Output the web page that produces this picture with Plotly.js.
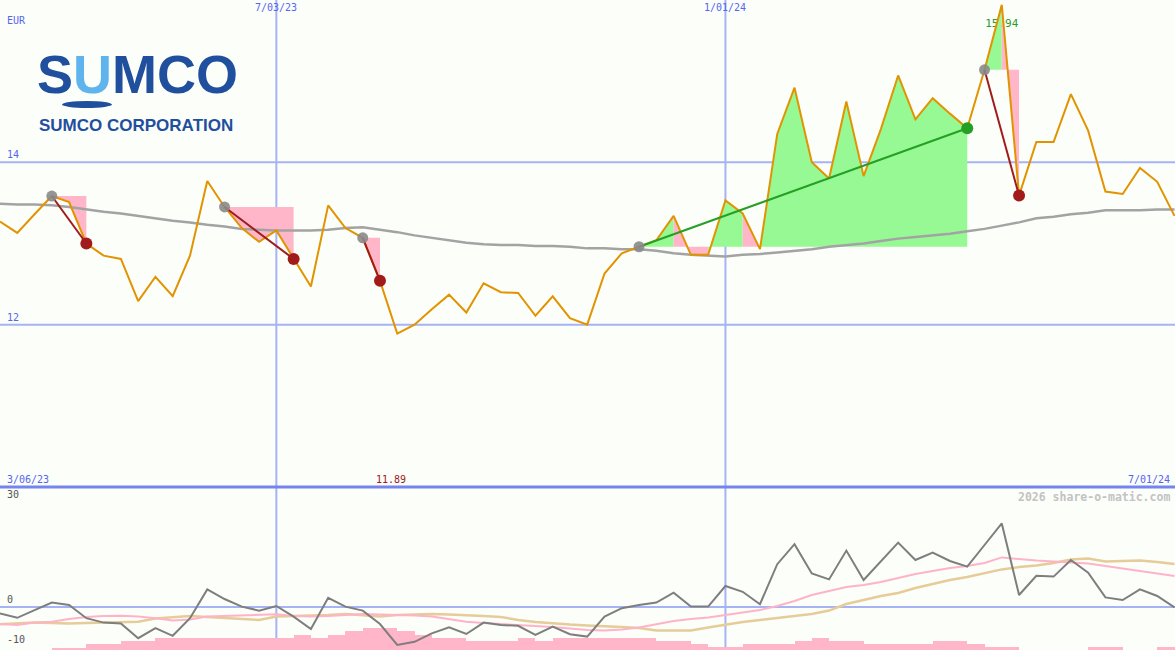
<!DOCTYPE html>
<html><head><meta charset="utf-8">
<script src="https://cdn.plot.ly/plotly-3.0.1.min.js"></script>
<style>html,body{margin:0;padding:0;background:#fcfefa;}#chart{width:1175px;height:650px;}</style>
</head><body><div id="chart"></div>
<script>
// ---- data (weekly) ----
const startDate = '2023-03-13';
const weekCount = 69;
const price = [13.27,13.13,13.36,13.585,13.51,13.00,12.85,12.81,12.29,12.59,12.35,12.85,13.77,13.45,13.19,13.02,13.16,12.81,12.47,13.47,
  13.19,13.07,12.54,11.89,12.00,12.19,12.37,12.15,12.51,12.40,12.39,12.11,12.35,12.08,12.00,12.63,12.88,12.96,13.04,13.34,
  12.86,12.86,13.53,13.37,12.93,14.35,14.92,14.00,13.80,14.75,13.83,14.41,15.07,14.53,14.79,14.60,14.42,15.14,15.94,13.59,
  14.25,14.25,14.84,14.39,13.64,13.61,13.93,13.76,13.34];
const movingAvg = [13.49,13.48,13.48,13.47,13.45,13.42,13.39,13.37,13.34,13.31,13.28,13.26,13.23,13.21,13.18,13.17,13.16,13.16,13.16,13.17,
  13.19,13.20,13.17,13.14,13.10,13.07,13.04,13.01,12.99,12.98,12.98,12.97,12.97,12.96,12.94,12.94,12.93,12.93,12.91,12.88,
  12.86,12.85,12.84,12.86,12.87,12.89,12.91,12.93,12.96,12.98,13.00,13.03,13.06,13.08,13.10,13.12,13.15,13.18,13.22,13.26,
  13.31,13.33,13.36,13.38,13.41,13.41,13.41,13.42,13.42];
const oscillator = [-1.6,-2.7,-0.8,1.1,0.5,-2.8,-3.9,-4.1,-7.8,-5.3,-7.2,-2.8,4.4,2.0,0.1,-0.9,0.25,-2.4,-5.5,2.3,
  0.1,-0.9,-4.25,-9.5,-8.7,-6.6,-5.1,-6.75,-3.9,-4.5,-4.7,-7.0,-4.9,-6.8,-7.4,-2.4,-0.3,0.5,1.1,3.6,
  0.1,0.1,5.25,3.8,0.7,10.7,15.7,8.4,6.9,14.1,6.75,11.5,16.1,11.75,13.6,11.5,10.1,15.5,20.9,3.0,
  7.8,7.6,11.75,8.6,2.4,1.75,4.4,2.75,-0.1];
const oscFast = [-4.25,-4.5,-3.9,-3.7,-3.0,-2.5,-2.25,-2.2,-2.4,-2.8,-3.4,-3.1,-2.4,-2.25,-2.1,-2.0,-1.8,-2.25,-2.4,-2.25,
  -2.0,-1.75,-1.9,-2.0,-2.1,-2.4,-3.0,-3.7,-4.0,-4.25,-4.5,-4.7,-5.0,-5.4,-5.75,-5.9,-5.6,-5.1,-4.25,-3.5,
  -3.0,-2.6,-2.0,-1.4,-0.75,0.25,1.5,3.0,4.0,5.0,5.5,6.25,7.25,8.25,9.0,9.75,10.25,11.0,12.4,12.0,
  11.6,11.4,11.1,10.9,10.25,9.6,9.0,8.4,7.75];
const oscSlow = [-4.3,-4.1,-3.9,-4.0,-4.1,-4.0,-3.9,-3.8,-3.7,-2.9,-2.5,-2.25,-2.5,-2.75,-3.0,-3.25,-2.4,-2.3,-2.2,-2.0,
  -1.75,-2.0,-2.4,-2.0,-1.9,-1.75,-1.9,-2.0,-2.25,-2.5,-3.25,-3.75,-4.1,-4.4,-4.6,-4.75,-5.0,-5.25,-5.9,-5.9,
  -5.9,-5.1,-4.4,-3.75,-3.25,-2.75,-2.1,-1.75,-0.9,0.75,1.75,2.75,3.5,4.75,5.75,6.75,7.5,8.5,9.4,10.0,
  10.4,11.0,11.9,12.1,11.4,11.5,11.6,11.25,10.75];
const volume = [0,0,0,2.3,2.3,6,6,9,9,12.3,12.3,12.3,12.3,12.3,12.3,12.3,12.3,15,12.3,15,
  19,22.3,22.3,19,15,12.3,12.3,9,9,9,12.3,9,12.3,12.3,12.3,12.3,12.3,12.3,9,9,
  6,3,3,6,6,6,9,12.3,9,9,6,6,6,6,9,9,6,3,3,0,
  0,0,0,3,3,0,0,3,3];
const trades = [[3,5],[13,17],[21,22],[37,56],[57,59]]; // [entry index, exit index]
const gridDates = ['2023-07-03','2024-01-01'];
const gridDateLabels = ['7/03/23','1/01/24'];
const priceGrid = [14,12];
const oscGrid = [0];
const oscLabels = [30,0,-10];
const firstLabel = '3/06/23', lastLabel = '7/01/24';
const currency = 'EUR';
const company = 'SUMCO CORPORATION';
const watermark = '2026 share-o-matic.com';

// ---- build ----
const DAY = 86400000, WEEK = 7*DAY;
const t0 = Date.parse(startDate+'T00:00:00Z');
const t = Array.from({length: weekCount}, (_, i) => t0 + i*WEEK);
const xRange = [t0, t[weekCount-1] + 0.2*DAY];
const splitY = 163/650;

const C = {
  price:'#e29300', ma:'#a3a3a3', green:'#97f994', pink:'#ffb6c9',
  loss:'#a11b1b', win:'#25a025', entry:'#8a8a8a', grid:'#a6b3f5', sep:'#7684ee',
  blue:'#5466f0', osc:'#7e7e7e', oscFast:'#ffb3c8', oscSlow:'#e5cc98'
};

const traces = [];
const iMax = price.indexOf(Math.max(...price));
const iMin = price.indexOf(Math.min(...price));
// max label (drawn under the fills, pushed one line down)
traces.push({type:'scatter', mode:'text', x:[t[iMax]], y:[price[iMax]], text:['<br>'+price[iMax].toFixed(2)],
  textposition:'bottom center', textfont:{family:'DejaVu Sans Mono', size:11, color:'#2a9a2a'},
  xaxis:'x', yaxis:'y', hoverinfo:'skip', showlegend:false, cliponaxis:false});

// fill between price and entry level during each trade; each week coloured by its closing price vs entry
trades.forEach(([a,b])=>{
  const L = price[a];
  let s = a;
  while(s < b){
    const up = price[s+1] >= L;
    let e = s+1;
    while(e < b && (price[e+1] >= L) === up) e++;
    const xs=[t[s]], ys=[L];
    for(let i=s;i<=e;i++){ xs.push(t[i]); ys.push(price[i]); }
    xs.push(t[e], t[s]); ys.push(L, L);
    traces.push({type:'scatter', mode:'lines', x:xs, y:ys, fill:'toself',
      fillcolor: up?C.green:C.pink, line:{width:0,color:'rgba(0,0,0,0)'},
      xaxis:'x', yaxis:'y', hoverinfo:'skip', showlegend:false});
    s = e;
  }
});
traces.push({type:'scatter', mode:'lines', x:t, y:movingAvg, line:{color:C.ma, width:2.5},
  xaxis:'x', yaxis:'y', hoverinfo:'skip', showlegend:false});
traces.push({type:'scatter', mode:'lines', x:t, y:price, line:{color:C.price, width:2},
  xaxis:'x', yaxis:'y', hoverinfo:'skip', showlegend:false});
trades.forEach(([a,b])=>{
  const win = price[b] > price[a];
  traces.push({type:'scatter', mode:'lines', x:[t[a],t[b]], y:[price[a],price[b]],
    line:{color: win?C.win:C.loss, width:2}, xaxis:'x', yaxis:'y', hoverinfo:'skip', showlegend:false});
});
trades.forEach(([a,b])=>{
  const win = price[b] > price[a];
  traces.push({type:'scatter', mode:'markers', x:[t[a]], y:[price[a]],
    marker:{color:C.entry, size:11, opacity:0.9}, xaxis:'x', yaxis:'y', hoverinfo:'skip', showlegend:false});
  traces.push({type:'scatter', mode:'markers', x:[t[b]], y:[price[b]],
    marker:{color: win?C.win:C.loss, size:12}, xaxis:'x', yaxis:'y', hoverinfo:'skip', showlegend:false});
});
// lower panel
traces.push({type:'bar', x:t, y:volume, width:WEEK, offset:0, marker:{color:C.pink, line:{width:0}},
  xaxis:'x', yaxis:'y2', hoverinfo:'skip', showlegend:false});
traces.push({type:'scatter', mode:'lines', x:t, y:oscSlow, line:{color:C.oscSlow, width:2.5},
  xaxis:'x', yaxis:'y3', hoverinfo:'skip', showlegend:false});
traces.push({type:'scatter', mode:'lines', x:t, y:oscFast, line:{color:C.oscFast, width:2},
  xaxis:'x', yaxis:'y3', hoverinfo:'skip', showlegend:false});
traces.push({type:'scatter', mode:'lines', x:t, y:oscillator, line:{color:C.osc, width:2},
  xaxis:'x', yaxis:'y3', hoverinfo:'skip', showlegend:false});

const mono = (size,color)=>({family:'DejaVu Sans Mono', size, color});
const shapes = [];
priceGrid.forEach(v=>shapes.push({type:'line', xref:'paper', x0:0, x1:1, yref:'y', y0:v, y1:v, line:{color:C.grid,width:2}, layer:'below'}));
oscGrid.forEach(v=>shapes.push({type:'line', xref:'paper', x0:0, x1:1, yref:'y3', y0:v, y1:v, line:{color:C.grid,width:2}, layer:'below'}));
gridDates.forEach(d=>shapes.push({type:'line', xref:'x', x0:Date.parse(d+'T00:00:00Z'), x1:Date.parse(d+'T00:00:00Z'), yref:'paper', y0:0, y1:1, line:{color:C.grid,width:2}, layer:'below'}));
shapes.push({type:'line', xref:'paper', x0:0, x1:1, yref:'paper', y0:splitY, y1:splitY, line:{color:C.sep,width:3}, layer:'above'});
// logo ellipse
shapes.push({type:'circle', xref:'paper', yref:'paper', x0:62/1175, x1:112/1175, y0:1-108/650, y1:1-101/650, fillcolor:'#1f4f9d', line:{width:0}, layer:'above'});

const annotations = [];
annotations.push({xref:'paper', yref:'paper', x:5/1175, y:1-13/650, xanchor:'left', yanchor:'top', text:currency, showarrow:false, font:mono(10,C.blue)});
priceGrid.forEach(v=>annotations.push({xref:'paper', yref:'y', x:5/1175, y:v, xanchor:'left', yanchor:'bottom', text:String(v), showarrow:false, font:mono(10,C.blue)}));
gridDates.forEach((d,i)=>annotations.push({xref:'x', yref:'paper', x:Date.parse(d+'T00:00:00Z'), y:1, xanchor:'center', yanchor:'top', text:gridDateLabels[i], showarrow:false, font:mono(10,C.blue)}));
annotations.push({xref:'paper', yref:'paper', x:5/1175, y:splitY, xanchor:'left', yanchor:'bottom', text:firstLabel, showarrow:false, font:mono(10,C.blue)});
annotations.push({xref:'paper', yref:'paper', x:1172/1175, y:splitY, xanchor:'right', yanchor:'bottom', text:lastLabel, showarrow:false, font:mono(10,C.blue)});
annotations.push({xref:'x', yref:'paper', x:t[iMin], y:splitY, xanchor:'center', yanchor:'bottom', xshift:-6, text:price[iMin].toFixed(2), showarrow:false, font:mono(10,'#a11b1b')});
oscLabels.forEach((v,i)=>annotations.push({xref:'paper', yref:'y3', x:5/1175, y:v, xanchor:'left', yanchor: i===0?'top':'bottom', text:String(v), showarrow:false, font:mono(10,'#555555')}));
annotations.push({xref:'paper', yref:'paper', x:1172/1175, y:splitY-1/650, xanchor:'right', yanchor:'top', text:watermark, showarrow:false, font:{family:'DejaVu Sans Mono', size:11.5, color:'#c3c3c3', weight:'bold'}});
// logo
const logoFont = 'Liberation Sans, Arial, sans-serif';
annotations.push({xref:'paper', yref:'paper', x:35/1175, y:1-74/650, xanchor:'left', yanchor:'middle',
  text:'<b>S<span style="color:#5fb4ee">U</span>MCO</b>', showarrow:false, font:{family:logoFont, size:54, color:'#1f4f9d'}});
annotations.push({xref:'paper', yref:'paper', x:37/1175, y:1-126/650, xanchor:'left', yanchor:'middle', text:'<b>'+company+'</b>', showarrow:false, font:{family:logoFont, size:17, color:'#1f4f9d'}});

const axisBase = {showgrid:false, zeroline:false, showticklabels:false, ticks:'', showline:false, fixedrange:true};
const layout = {
  width:1175, height:650, margin:{l:0,r:0,t:0,b:0,pad:0},
  paper_bgcolor:'#fcfefa', plot_bgcolor:'rgba(0,0,0,0)', showlegend:false, bargap:0,
  xaxis:Object.assign({}, axisBase, {type:'date', range:xRange, domain:[0,1], anchor:'y2'}),
  yaxis:Object.assign({}, axisBase, {range:[10,16], domain:[splitY,1]}),
  yaxis2:Object.assign({}, axisBase, {range:[0,163], domain:[0,splitY]}),
  yaxis3:Object.assign({}, axisBase, {range:[-10.75,30], overlaying:'y2'}),
  shapes, annotations
};
Plotly.newPlot('chart', traces, layout, {staticPlot:true, displayModeBar:false});
</script></body></html>
